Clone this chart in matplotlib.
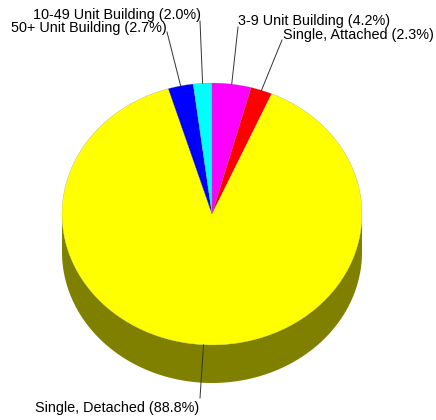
import numpy as np
import matplotlib
matplotlib.use("Agg")
import matplotlib.pyplot as plt
from matplotlib.patches import Polygon

# housing type shares, clockwise from 12 o'clock
labels = ["3-9 Unit Building", "Single, Attached", "Single, Detached",
          "50+ Unit Building", "10-49 Unit Building"]
shares = [4.2, 2.3, 88.8, 2.7, 2.0]
colors = ["#ff00ff", "#ff0000", "#ffff00", "#0000ff", "#00ffff"]

# pie geometry in pixels (y grows downward)
cx, cy = 212, 214
rx, ry = 150, 131
depth = 38

# where each label sits, and the end of its leader line
label_pos = [(238, 21, "left"), (283, 35, "left"), (35, 408, "left"),
             (167, 28, "right"), (201, 15, "right")]
line_end = [(238, 27), (282, 40), (200, 398), (167, 32), (200, 21)]

fig = plt.figure(figsize=(4.36, 4.20), dpi=100)
ax = fig.add_axes([0, 0, 1, 1])
ax.set_xlim(0, 436)
ax.set_ylim(420, 0)
ax.axis("off")


def pt(a, dy=0):
    r = np.radians(a)
    return cx + rx * np.cos(r), cy - ry * np.sin(r) + dy


def darker(c):
    rgb = matplotlib.colors.to_rgb(c)
    return tuple(v * 0.5 for v in rgb)


# slice angles (math convention, clockwise means decreasing)
bounds = [90]
for s in shares:
    bounds.append(bounds[-1] - s * 3.6)

# side walls first (only the front half is visible)
for i, c in enumerate(colors):
    a1, a2 = bounds[i], bounds[i + 1]   # a1 > a2
    for k in (-360, 0, 360):
        lo = max(a2 + k, 180)
        hi = min(a1 + k, 360)
        if hi > lo:
            th = np.linspace(lo, hi, 120)
            top = [pt(t) for t in th]
            bot = [pt(t, depth) for t in th[::-1]]
            ax.add_patch(Polygon(top + bot, closed=True, fc=darker(c),
                                 ec="none", zorder=1))

# top faces
for i, c in enumerate(colors):
    a1, a2 = bounds[i], bounds[i + 1]
    th = np.linspace(a1, a2, max(int(abs(a1 - a2)), 4))
    verts = [(cx, cy)] + [pt(t) for t in th]
    ax.add_patch(Polygon(verts, closed=True, fc=c, ec="#777777",
                         lw=0.15, zorder=2))

# labels and leader lines
for i, lab in enumerate(labels):
    mid = (bounds[i] + bounds[i + 1]) / 2
    x0, y0 = pt(mid)
    x1, y1 = line_end[i]
    ax.plot([x0, x1], [y0, y1], color="#333333", lw=0.7, zorder=3)
    tx, ty, ha = label_pos[i]
    ax.text(tx, ty, "%s (%.1f%%)" % (lab, shares[i]), ha=ha, va="center",
            fontsize=10.4, family="Liberation Sans", zorder=4)

fig.savefig("out.png", dpi=100)
